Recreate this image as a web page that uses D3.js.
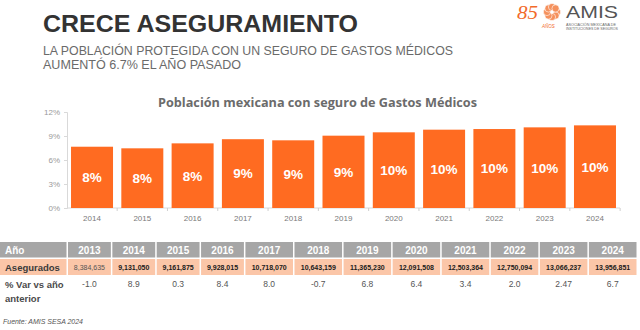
<!DOCTYPE html>
<html>
<head>
<meta charset="utf-8">
<script src="https://cdn.jsdelivr.net/npm/d3@7"></script>
<style>
  body { margin: 0; background: #fff; }
  svg { display: block; font-family: "Liberation Sans", Arial, sans-serif; }
</style>
</head>
<body>
<div id="chart"></div>
<script>
// chart data (share of population with major medical insurance, %)
var chartYears = ["2014","2015","2016","2017","2018","2019","2020","2021","2022","2023","2024"];
var coverage = [7.66, 7.46, 8.08, 8.6, 8.46, 9.04, 9.46, 9.79, 9.87, 10.08, 10.33];
var coverageLabels = ["8%","8%","8%","9%","9%","9%","10%","10%","10%","10%","10%"];
var yTicks = [0, 3, 6, 9, 12];

// table data
var tableYears = ["2013","2014","2015","2016","2017","2018","2019","2020","2021","2022","2023","2024"];
var insured = ["8,384,635","9,131,050","9,161,875","9,928,015","10,718,070","10,643,159","11,365,230","12,091,508","12,503,364","12,750,094","13,066,237","13,956,851"];
var yoyChange = ["-1.0","8.9","0.3","8.4","8.0","-0.7","6.8","6.4","3.4","2.0","2.47","6.7"];

var W = 640, H = 330;
var orange = "#ff6b21";

var svg = d3.select("#chart").append("svg")
    .attr("width", W)
    .attr("height", H);

// ---- header ----
svg.append("text")
    .attr("x", 43).attr("y", 32)
    .attr("textLength", 315).attr("lengthAdjust", "spacingAndGlyphs")
    .style("font-size", "24px").style("font-weight", "bold").style("fill", "#333")
    .text("CRECE ASEGURAMIENTO");

svg.append("text")
    .attr("x", 43).attr("y", 55)
    .attr("textLength", 410).attr("lengthAdjust", "spacingAndGlyphs")
    .style("font-size", "12.5px").style("fill", "#6a6a6a")
    .text("LA POBLACIÓN PROTEGIDA CON UN SEGURO DE GASTOS MÉDICOS");

svg.append("text")
    .attr("x", 43).attr("y", 69)
    .attr("textLength", 198).attr("lengthAdjust", "spacingAndGlyphs")
    .style("font-size", "12.5px").style("fill", "#6a6a6a")
    .text("AUMENTÓ 6.7% EL AÑO PASADO");

// ---- logo ----
var logo = svg.append("g");
logo.append("text")
    .attr("x", 517).attr("y", 19)
    .attr("textLength", 21).attr("lengthAdjust", "spacingAndGlyphs")
    .style("font-family", "'Liberation Serif', serif").style("font-style", "italic")
    .style("font-size", "19px").style("fill", "#f26a2b")
    .text("85");
logo.append("text")
    .attr("x", 542).attr("y", 27.5)
    .style("font-size", "4.5px").style("fill", "#f26a2b").style("font-style", "italic")
    .text("AÑOS");

// pinwheel mark: ring of petals
var petalAngles = d3.range(8).map(function(i){ return i * Math.PI / 4; });
var flower = logo.append("g").attr("transform", "translate(552,12)");
flower.selectAll("circle").data(petalAngles).enter().append("circle")
    .attr("cx", function(a){ return 5 * Math.cos(a); })
    .attr("cy", function(a){ return 5 * Math.sin(a); })
    .attr("r", 3.6)
    .attr("fill", "#f5915d")
    .attr("stroke", "#fff")
    .attr("stroke-width", 0.6);
flower.append("circle").attr("r", 1.6).attr("fill", "#fff");

logo.append("text")
    .attr("x", 566).attr("y", 18)
    .attr("textLength", 52).attr("lengthAdjust", "spacingAndGlyphs")
    .style("font-size", "17px").style("fill", "#555")
    .text("AMIS");
logo.append("text")
    .attr("x", 566).attr("y", 25.5)
    .attr("textLength", 50).attr("lengthAdjust", "spacingAndGlyphs")
    .style("font-size", "4px").style("fill", "#666")
    .text("ASOCIACIÓN MEXICANA DE");
logo.append("text")
    .attr("x", 566).attr("y", 30)
    .attr("textLength", 52).attr("lengthAdjust", "spacingAndGlyphs")
    .style("font-size", "4px").style("fill", "#666")
    .text("INSTITUCIONES DE SEGUROS");

// ---- bar chart ----
svg.append("text")
    .attr("x", 158).attr("y", 107)
    .attr("textLength", 319).attr("lengthAdjust", "spacingAndGlyphs")
    .style("font-family", "'Open Sans', sans-serif")
    .style("font-size", "12.5px").style("font-weight", "bold").style("fill", "#6b6b6b")
    .text("Población mexicana con seguro de Gastos Médicos");

var x = d3.scaleBand()
    .domain(chartYears)
    .range([67, 620])
    .paddingInner(0.165)
    .paddingOuter(0.08);

var y = d3.scaleLinear()
    .domain([0, 12])
    .range([208, 112]);

var yAxis = svg.append("g")
    .attr("transform", "translate(67,0)")
    .call(d3.axisLeft(y).tickValues(yTicks).tickSize(3).tickPadding(4)
        .tickFormat(function(d){ return d + "%"; }));
yAxis.select(".domain").attr("stroke", "#d9d9d9");
yAxis.selectAll(".tick line").attr("stroke", "#d9d9d9");
yAxis.selectAll(".tick text")
    .style("font-size", "8px").style("fill", "#9a9a9a")
    .style("font-family", "'Liberation Sans', Arial, sans-serif");

// category axis: ticks between the bars
var xAxis = svg.append("g")
    .attr("transform", "translate(0,208)");
xAxis.append("line")
    .attr("x1", 67).attr("x2", 620)
    .attr("stroke", "#d9d9d9");
xAxis.selectAll(".sep").data(chartYears).enter().append("line")
    .attr("class", "sep")
    .attr("x1", function(d){ return x(d) + x.bandwidth() + x.step() * x.paddingInner() / 2; })
    .attr("x2", function(d){ return x(d) + x.bandwidth() + x.step() * x.paddingInner() / 2; })
    .attr("y1", 0).attr("y2", 3)
    .attr("stroke", "#d0d0d0");
xAxis.selectAll(".lbl").data(chartYears).enter().append("text")
    .attr("class", "lbl")
    .attr("x", function(d){ return x(d) + x.bandwidth() / 2; })
    .attr("y", 13)
    .attr("text-anchor", "middle")
    .style("font-size", "8px").style("fill", "#7a7a7a")
    .text(function(d){ return d; });

var bars = svg.append("g").selectAll("g").data(chartYears).enter().append("g");
bars.append("rect")
    .attr("x", function(d){ return x(d); })
    .attr("y", function(d, i){ return y(coverage[i]); })
    .attr("width", x.bandwidth())
    .attr("height", function(d, i){ return y(0) - y(coverage[i]); })
    .attr("fill", orange);
bars.append("text")
    .attr("x", function(d){ return x(d) + x.bandwidth() / 2; })
    .attr("y", function(d, i){ return (y(coverage[i]) + y(0)) / 2; })
    .attr("dy", "0.36em")
    .attr("text-anchor", "middle")
    .style("font-size", "13.5px").style("font-weight", "bold").style("fill", "#fff")
    .text(function(d, i){ return coverageLabels[i]; });

// ---- table ----
// column widths follow the length of the entries, like an auto-fit sheet
var colWeights = insured.map(function(s){ return s.length + 0.4; });
var colEdges = [0].concat(Array.from(d3.cumsum(colWeights)));
var tableLeft = 68, tableRight = 638;
var colScale = d3.scaleLinear().domain([0, d3.sum(colWeights)]).range([tableLeft, tableRight]);
var gap = 1.5;

var rows = { head: [242, 257.5], ins: [259, 275] };

var table = svg.append("g");

// row headers
table.append("rect")
    .attr("x", 0).attr("y", rows.head[0])
    .attr("width", tableLeft - gap).attr("height", rows.head[1] - rows.head[0])
    .attr("fill", "#a6a6a6");
table.append("text")
    .attr("x", 5).attr("y", 254)
    .style("font-size", "10px").style("font-weight", "bold").style("fill", "#fff")
    .text("Año");

table.append("rect")
    .attr("x", 0).attr("y", rows.ins[0])
    .attr("width", tableLeft - gap).attr("height", rows.ins[1] - rows.ins[0])
    .attr("fill", "#fbc6a8");
table.append("text")
    .attr("x", 5).attr("y", 270.5)
    .style("font-size", "9.5px").style("font-weight", "bold").style("fill", "#3a3a3a")
    .text("Asegurados");

table.append("text")
    .attr("x", 5).attr("y", 288)
    .style("font-size", "9.5px").style("font-weight", "bold").style("fill", "#4a4a4a")
    .text("% Var vs año");
table.append("text")
    .attr("x", 5).attr("y", 302)
    .style("font-size", "9.5px").style("font-weight", "bold").style("fill", "#4a4a4a")
    .text("anterior");

var cols = table.selectAll(".col").data(tableYears).enter().append("g").attr("class", "col");
function colX(i){ return colScale(colEdges[i]); }
function colW(i){ return colScale(colEdges[i + 1]) - colScale(colEdges[i]) - gap; }
function colMid(i){ return colX(i) + colW(i) / 2; }

cols.append("rect")
    .attr("x", function(d, i){ return colX(i); })
    .attr("y", rows.head[0])
    .attr("width", function(d, i){ return colW(i); })
    .attr("height", rows.head[1] - rows.head[0])
    .attr("fill", "#a6a6a6");
cols.append("text")
    .attr("x", function(d, i){ return colMid(i); })
    .attr("y", 254)
    .attr("text-anchor", "middle")
    .style("font-size", "10px").style("font-weight", "bold").style("fill", "#fff")
    .text(function(d){ return d; });

cols.append("rect")
    .attr("x", function(d, i){ return colX(i); })
    .attr("y", rows.ins[0])
    .attr("width", function(d, i){ return colW(i); })
    .attr("height", rows.ins[1] - rows.ins[0])
    .attr("fill", "#fbc6a8");
cols.append("text")
    .attr("x", function(d, i){ return colMid(i); })
    .attr("y", 269.5)
    .attr("text-anchor", "middle")
    .style("font-size", "7px")
    .style("font-weight", function(d, i){ return i === 0 ? "normal" : "bold"; })
    .style("fill", function(d, i){ return i === 0 ? "#555" : "#1a1a1a"; })
    .text(function(d, i){ return insured[i]; });

cols.append("text")
    .attr("x", function(d, i){ return colMid(i); })
    .attr("y", 287)
    .attr("text-anchor", "middle")
    .style("font-size", "8.5px").style("fill", "#555")
    .text(function(d, i){ return yoyChange[i]; });

// source
svg.append("text")
    .attr("x", 3).attr("y", 324)
    .attr("textLength", 80).attr("lengthAdjust", "spacingAndGlyphs")
    .style("font-size", "7px").style("font-style", "italic").style("fill", "#555")
    .text("Fuente: AMIS SESA 2024");
</script>
</body>
</html>
